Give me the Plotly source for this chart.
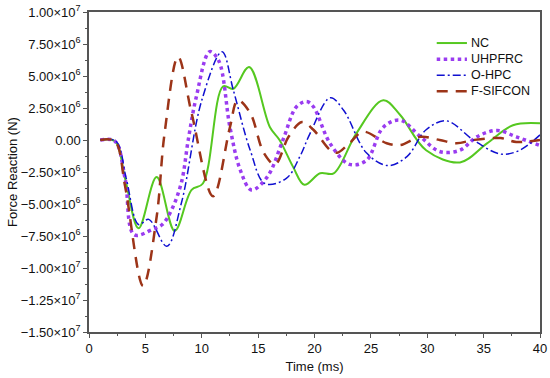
import plotly.graph_objects as go

# ---- data (time in ms, force in N) ----
nc_t = [1, 2.3, 3.2, 4.4, 6.0, 7.6, 9.1, 10.1, 11.9, 12.8, 14.2, 16.05, 16.9, 18.1, 19.1,
        20.5, 21.7, 23.7, 26.1, 27.6, 29.9, 32.9, 35.3, 37.6, 40]
nc_v = [0, -0.1e6, -3.0e6, -6.9e6, -2.9e6, -7.1e6, -3.9e6, -3.4e6, 4.2e6, 4.0e6, 5.7e6,
        1.0e6, 0.0, -2.1e6, -3.5e6, -2.6e6, -2.6e6, 0.5e6, 3.1e6, 1.95e6, -0.8e6, -1.75e6,
        -0.26e6, 1.15e6, 1.3e6]

uh_t = [1, 2.3, 3.2, 4.0, 5.6, 6.5, 7.3, 8.2, 8.8, 9.5, 10.7, 11.5, 12.5, 13.4, 14.4, 15.8,
        17.2, 18.4, 19.3, 19.9, 21.4, 23.1, 24.6, 26.1, 27.6, 29.4, 31.1, 32.9, 34.4, 36.2,
        37.9, 39.9]
uh_v = [0, -0.1e6, -3.0e6, -7.4e6, -7.0e6, -6.6e6, -5.5e6, -3.3e6, 0, 3.3e6, 6.9e6, 6.2e6,
        1.0e6, -2.3e6, -3.9e6, -2.9e6, 0, 2.6e6, 3.0e6, 2.6e6, -0.3e6, -1.9e6, -1.6e6, 1.0e6,
        1.55e6, 0.25e6, -0.9e6, -0.8e6, 0.25e6, 0.75e6, 0.25e6, -0.4e6]

oh_t = [1, 2.4, 3.3, 4.4, 5.3, 6.9, 8.2, 10.0, 11.8, 12.8, 14.3, 15.6, 17.5, 18.7, 19.6,
        21.4, 22.6, 24.6, 26.5, 28.2, 29.9, 31.7, 34.1, 36.5, 38.2, 40]
oh_v = [0, -0.1e6, -3.0e6, -6.6e6, -6.2e6, -8.3e6, -4.9e6, 3.1e6, 6.9e6, 3.9e6, -0.8e6,
        -3.4e6, -3.0e6, -1.3e6, 0.5e6, 3.3e6, 2.3e6, -1.0e6, -2.0e6, -1.3e6, 0.8e6, 1.5e6,
        0, -1.1e6, -0.8e6, 0.4e6]

fs_t = [1, 2.3, 3.2, 4.8, 6.0, 6.7, 7.9, 9.1, 11.0, 12.5, 13.2, 14.3, 15.5, 16.5, 17.7,
        18.9, 19.9, 21.4, 22.0, 23.1, 24.3, 26.4, 27.6, 29.4, 31.1, 32.6, 34.1, 36.5, 37.9, 40]
fs_v = [0, -0.1e6, -3.6e6, -11.4e6, -6.0e6, 0.5e6, 6.5e6, 2.1e6, -4.4e6, 1.0e6, 3.1e6,
        2.1e6, -1.0e6, -1.9e6, 0.25e6, 1.4e6, 0.8e6, -0.8e6, -1.0e6, -0.25e6, 0.65e6,
        -0.25e6, -0.4e6, 0.25e6, 0, -0.25e6, 0, 0.15e6, -0.15e6, 0]

series_names = ["NC", "UHPFRC", "O-HPC", "F-SIFCON"]

y_ticks = [1.0e7, 7.5e6, 5.0e6, 2.5e6, 0, -2.5e6, -5.0e6, -7.5e6, -1.0e7, -1.25e7, -1.5e7]
y_labels = ["1.00×10<sup>7</sup>", "7.50×10<sup>6</sup>", "5.00×10<sup>6</sup>",
            "2.50×10<sup>6</sup>", "0.00", "−2.50×10<sup>6</sup>", "−5.00×10<sup>6</sup>",
            "−7.50×10<sup>6</sup>", "−1.00×10<sup>7</sup>", "−1.25×10<sup>7</sup>",
            "−1.50×10<sup>7</sup>"]
x_ticks = [0, 5, 10, 15, 20, 25, 30, 35, 40]

FONT = "Arial, 'Liberation Sans', sans-serif"

styles = [
    dict(color="#55c820", width=2, dash="solid"),
    dict(color="#9a3cf0", width=3.5, dash="dot"),
    dict(color="#1010d0", width=1.5, dash="8px,3px,2px,3px"),
    dict(color="#9c3418", width=2.5, dash="11px,8px"),
]

fig = go.Figure()
for name, t, v, st in zip(series_names, [nc_t, uh_t, oh_t, fs_t], [nc_v, uh_v, oh_v, fs_v], styles):
    fig.add_trace(go.Scatter(x=t, y=v, name=name, mode="lines",
                             line=dict(shape="spline", **st)))

# manual compact legend (top right, inside plot)
leg_y = [0.903, 0.852, 0.802, 0.752]
for name, st, yy in zip(series_names, styles, leg_y):
    fig.add_shape(type="line", xref="paper", yref="paper",
                  x0=0.771, x1=0.838, y0=yy, y1=yy,
                  line=dict(color=st["color"], width=st["width"], dash=st["dash"]))
    fig.add_annotation(xref="paper", yref="paper", x=0.842, y=yy, text=name,
                       showarrow=False, xanchor="left", yanchor="middle",
                       font=dict(family=FONT, size=12.5, color="#111111"))

axis_common = dict(showline=True, linecolor="#555555", linewidth=1.5, mirror=True,
                   ticks="outside", ticklen=4, tickwidth=1, tickcolor="#555555",
                   showgrid=False, zeroline=False, automargin=False,
                   tickfont=dict(family=FONT, size=13, color="#111111"))

fig.update_layout(
    width=550, height=378,
    margin=dict(l=89, r=10, t=12, b=46),
    paper_bgcolor="white", plot_bgcolor="white",
    font=dict(family=FONT, size=13, color="#111111"),
    showlegend=False,
    xaxis=dict(range=[0, 40], tickvals=x_ticks,
               title=dict(text="Time (ms)", font=dict(family=FONT, size=13), standoff=7),
               minor=dict(ticks="outside", ticklen=2, dtick=2.5, tickcolor="#555555"),
               **axis_common),
    yaxis=dict(range=[-1.5e7, 1.0e7], tickvals=y_ticks, ticktext=y_labels,
               title=dict(text="Force Reaction (N)", font=dict(family=FONT, size=13), standoff=0),
               minor=dict(ticks="outside", ticklen=2, dtick=1.25e6, tickcolor="#555555"),
               **axis_common),
)

fig.write_html("out.html",
               config={"displayModeBar": False},
               post_script="document.body.style.margin='0';document.body.style.padding='0';"
                           "document.body.style.overflow='hidden';")
